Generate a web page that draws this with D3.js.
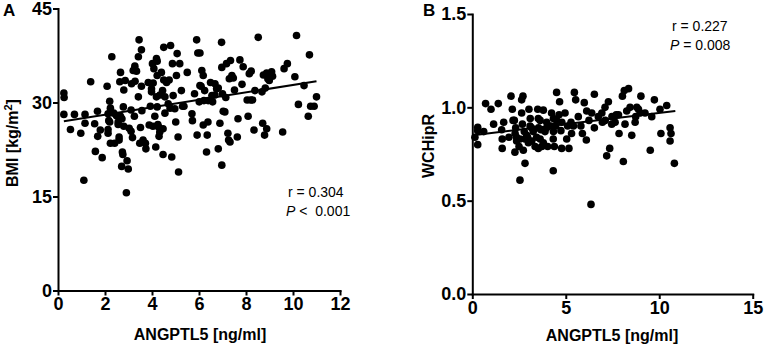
<!DOCTYPE html>
<html>
<head>
<meta charset="utf-8">
<script src="https://cdn.jsdelivr.net/npm/d3@7"></script>
<style>
  body { margin: 0; background: #fff; }
  svg { display: block; font-family: "Liberation Sans", Arial, sans-serif; }
  .axis path, .axis line { stroke: #000; stroke-width: 2; }
  .axis text { font-size: 18px; font-weight: bold; fill: #000; }
  .title { font-size: 16px; font-weight: bold; }
  .stat { font-size: 14px; white-space: pre; }
</style>
</head>
<body>
<script>
// panel A: ANGPTL5 vs BMI
let pointsA = [
  [0.25,31.5],[0.26,30.8],[0.25,28.1],[0.53,25.7],[0.7,28.1],[0.97,25.1],[1.1,17.6],[1.15,28.1],[1.15,26.7],[1.39,33.3],
  [1.56,26.6],[1.59,22.2],[1.68,28.6],[1.69,24.6],[1.8,25.6],[1.88,21.2],[2.09,32.6],[2.13,25.7],[2.13,25.1],[2.16,27.1],
  [2.2,30.2],[2.23,29.1],[2.29,37.3],[2.23,23.5],[2.37,28.3],[2.41,23.5],[2.49,27.9],[2.56,26.9],[2.56,26.5],[2.6,24.5],
  [2.6,24.0],[2.63,33.3],[2.66,34.8],[2.66,27.8],[2.71,19.8],[2.74,22.1],[2.76,21.7],[2.78,29.3],[2.8,32.0],[2.8,26.2],
  [2.86,33.5],[2.91,15.6],[2.94,20.7],[2.99,19.4],[3.03,25.9],[3.11,28.8],[3.11,25.4],[3.13,33.0],[3.17,24.4],[3.2,35.1],
  [3.25,27.8],[3.28,33.4],[3.27,35.8],[3.34,35.0],[3.42,37.3],[3.45,40.0],[3.42,30.9],[3.48,23.5],[3.51,26.0],[3.55,38.4],
  [3.55,32.6],[3.57,28.7],[3.62,24.0],[3.74,22.6],[3.84,33.2],[3.88,26.4],[3.93,29.4],[3.98,32.2],[3.98,31.7],[4.02,36.2],
  [4.05,33.1],[4.08,35.4],[4.12,27.8],[4.16,22.9],[4.19,37.0],[4.22,36.6],[4.22,34.3],[4.19,30.9],[4.22,29.3],[4.25,26.5],
  [4.28,26.1],[4.3,24.6],[4.33,25.3],[4.4,34.8],[4.45,31.9],[4.47,25.8],[4.47,21.7],[4.5,38.8],[4.55,30.9],[4.62,33.2],
  [4.69,29.8],[4.73,33.6],[4.79,39.1],[4.84,21.3],[4.87,36.2],[4.9,31.1],[4.97,29.0],[5.01,26.9],[5.04,34.3],[5.07,37.8],
  [5.11,24.5],[5.13,18.9],[5.18,36.2],[5.25,31.9],[5.3,29.4],[5.36,29.4],[5.5,34.8],[5.7,28.2],[5.72,27.1],[5.81,31.4],
  [5.9,40.0],[5.92,24.8],[5.95,37.9],[6.04,37.9],[6.01,30.1],[6.04,32.7],[6.09,32.6],[6.12,35.1],[6.18,34.3],[6.18,26.4],
  [6.21,30.3],[6.24,31.9],[6.32,22.1],[6.35,24.8],[6.38,26.9],[6.39,30.3],[6.49,33.2],[6.55,31.1],[6.58,30.1],[6.68,33.0],
  [6.75,32.2],[6.82,32.3],[6.82,22.6],[6.89,26.7],[6.96,39.6],[6.97,20.0],[6.97,35.6],[7.0,31.4],[7.03,28.6],[7.1,28.5],
  [7.14,30.8],[7.17,36.2],[7.23,25.1],[7.26,24.0],[7.29,33.8],[7.32,23.7],[7.34,36.7],[7.4,34.3],[7.51,32.0],[7.63,24.5],
  [7.66,27.4],[7.74,36.8],[7.83,32.9],[7.88,35.7],[8.05,30.4],[8.09,27.8],[8.14,34.6],[8.2,30.4],[8.22,35.0],[8.28,30.4],
  [8.34,25.6],[8.38,31.9],[8.52,40.4],[8.68,31.7],[8.71,26.7],[8.74,34.4],[8.79,24.8],[8.82,32.3],[8.88,25.8],[8.88,34.7],
  [8.93,33.8],[8.99,33.5],[9.09,34.9],[9.13,34.2],[9.56,25.3],[9.62,35.4],[9.76,36.2],[10.08,34.1],[10.15,40.7],[10.23,29.7],
  [10.47,32.7],[10.65,27.8],[10.7,37.6],[10.75,29.4],[10.9,29.4],[11.0,30.9],
  [2.72,27.4],[2.2,26.9],[4.04,26.2],[3.72,23.5],[4.5,33.6],[7.46,33.9],[4.34,31.2],[6.68,31.2],[4.77,29.1],[4.55,28.3],[2.13,28.2]
];
let fitA = [[0.25, 27.0], [11.0, 33.4]];

// panel B: ANGPTL5 vs WCHipR
let pointsB = [
  [0.29,0.893],[0.29,0.875],[0.29,0.80],[0.61,0.87],[0.71,1.02],[1.0,0.99],[1.39,1.02],[1.14,0.91],[1.57,0.88],[1.6,0.83],
  [1.6,0.78],[1.68,0.92],[1.96,0.84],[2.07,1.06],[2.14,0.99],[2.18,0.93],[2.25,0.93],[2.32,0.89],[2.37,0.84],[2.37,0.82],
  [2.28,0.76],[2.5,0.79],[2.55,0.61],[2.64,1.04],[2.71,1.06],[2.68,0.91],[2.78,0.87],[2.82,0.83],[2.82,0.70],[2.96,0.84],
  [3.0,0.81],[3.03,0.99],[3.1,0.94],[3.17,0.89],[3.26,0.87],[3.44,0.84],[3.5,0.99],[3.53,0.94],[3.53,0.78],[3.67,0.88],
  [3.8,0.81],[3.98,0.89],[4.03,0.79],[4.21,0.90],[4.24,0.97],[4.33,0.66],[4.33,0.83],[4.39,0.79],[4.46,0.90],[4.51,1.08],
  [4.51,0.93],[4.64,0.96],[4.67,1.03],[4.74,0.875],[4.78,0.78],[4.96,0.97],[5.05,0.83],[5.1,0.90],[5.17,0.78],[5.28,0.92],
  [5.31,0.86],[5.46,1.08],[5.53,1.04],[5.67,0.95],[5.81,0.90],[5.89,0.86],[5.99,1.025],[6.1,0.825],[6.12,0.98],[6.24,0.93],
  [6.35,0.48],[6.53,1.07],[6.53,0.89],[6.74,0.95],[6.96,0.92],[7.1,1.0],[7.19,0.74],[7.28,1.03],[7.35,0.78],[7.46,0.91],
  [7.7,0.96],[7.85,0.86],[8.03,1.06],[8.13,1.09],[8.08,0.71],[8.17,0.91],[8.26,0.98],[8.44,1.0],[8.53,0.85],[8.74,0.95],
  [9.02,1.06],[9.24,0.97],[9.52,0.77],[9.74,1.04],[9.6,0.95],[10.04,0.99],[10.09,0.86],[10.4,1.01],[10.58,0.89],[10.63,0.86],
  [10.58,0.82],[10.81,0.70],
  [0.14,0.84],[2.29,0.86],[2.55,0.83],[2.91,0.85],[3.09,0.90],[3.18,0.82],[3.36,0.79],[3.54,0.89],[3.63,0.83],[3.72,0.79],
  [2.73,0.77],[2.64,0.97],[3.8,0.985],[6.39,0.97],[6.93,0.97],[7.47,0.95],[3.63,0.93],[3.98,0.92],[4.34,0.94],[4.79,0.92],
  [5.41,0.90],[7.11,0.93],[3.89,0.87],[4.34,0.87],[8.36,1.10],[8.8,1.0],[8.89,0.99],[7.82,0.96],[7.64,0.92],[8.98,0.97],[8.71,0.92]
];
let fitB = [[0.15, 0.852], [10.86, 0.98]];

let ticksAx = [0, 2, 4, 6, 8, 10, 12];
let ticksAy = [0, 15, 30, 45];
let ticksBx = [0, 5, 10, 15];
let ticksBy = [0, 0.5, 1.0, 1.5];

let svg = d3.select("body").append("svg")
  .attr("width", 765)
  .attr("height", 347);

function drawPanel(opt) {
  let x = d3.scaleLinear().domain(opt.xDomain).range(opt.xRange);
  let y = d3.scaleLinear().domain(opt.yDomain).range(opt.yRange);

  let xAxis = d3.axisBottom(x).tickValues(opt.xTicks).tickSize(5).tickSizeOuter(0).tickPadding(2).tickFormat(d3.format("d"));
  let yAxis = d3.axisLeft(y).tickValues(opt.yTicks).tickSize(5).tickSizeOuter(0).tickPadding(1).tickFormat(opt.yFormat);

  svg.append("g")
    .attr("class", "axis")
    .attr("transform", "translate(0," + opt.yRange[0] + ")")
    .call(xAxis);
  svg.append("g")
    .attr("class", "axis")
    .attr("transform", "translate(" + opt.xRange[0] + ",0)")
    .call(yAxis);

  svg.selectAll(".axis .domain").attr("stroke-linecap", "square");

  // points
  svg.append("g").selectAll("circle")
    .data(opt.points)
    .enter()
    .append("circle")
    .attr("cx", d => x(d[0]))
    .attr("cy", d => y(d[1]))
    .attr("r", 3.8)
    .attr("fill", "#000");

  // regression line
  svg.append("path")
    .datum(opt.fit)
    .attr("d", d3.line().x(d => x(d[0])).y(d => y(d[1])))
    .attr("stroke", "#000")
    .attr("stroke-width", 2)
    .attr("fill", "none");

  // x title
  svg.append("text")
    .attr("class", "title")
    .attr("x", opt.xTitlePos[0])
    .attr("y", opt.xTitlePos[1])
    .attr("text-anchor", "middle")
    .text("ANGPTL5 [ng/ml]");

  // panel letter
  svg.append("text")
    .attr("x", opt.letterPos[0])
    .attr("y", opt.letterPos[1])
    .style("font-size", "17px")
    .style("font-weight", "bold")
    .text(opt.letter);

  return {x: x, y: y};
}

drawPanel({
  xDomain: [0, 12], xRange: [58, 340],
  yDomain: [0, 45], yRange: [290.5, 8.5],
  xTicks: ticksAx, yTicks: ticksAy, yFormat: d3.format("d"),
  points: pointsA, fit: fitA,
  xTitlePos: [200, 340], letterPos: [3, 16], letter: "A"
});

drawPanel({
  xDomain: [0, 15], xRange: [472.3, 752.7],
  yDomain: [0, 1.5], yRange: [294, 14],
  xTicks: ticksBx, yTicks: ticksBy, yFormat: d3.format(".1f"),
  points: pointsB, fit: fitB,
  xTitlePos: [612, 341], letterPos: [423, 16], letter: "B"
});

// y titles
let yTitleA = svg.append("text")
  .attr("class", "title")
  .attr("transform", "translate(18,143) rotate(-90)")
  .attr("text-anchor", "middle");
yTitleA.append("tspan").text("BMI [kg/m");
yTitleA.append("tspan").attr("dy", -6).style("font-size", "11px").text("2");
yTitleA.append("tspan").attr("dy", 6).text("]");

svg.append("text")
  .attr("class", "title")
  .attr("transform", "translate(434,146) rotate(-90)")
  .attr("text-anchor", "middle")
  .text("WCHipR");

// stats text
function statLines(xPos, yPos, rText, pSign, pVal) {
  let t1 = svg.append("text").attr("class", "stat").attr("x", xPos).attr("y", yPos);
  t1.text("r = " + rText);
  let t2 = svg.append("text").attr("class", "stat").attr("x", xPos - 2).attr("y", yPos + 19);
  t2.append("tspan").style("font-style", "italic").text("P");
  t2.append("tspan").text(pSign + pVal);
}
statLines(288, 197, "0.304", " <\u00a0 ", "0.001");
statLines(672, 31, "0.227", " = ", "0.008");
</script>
</body>
</html>
